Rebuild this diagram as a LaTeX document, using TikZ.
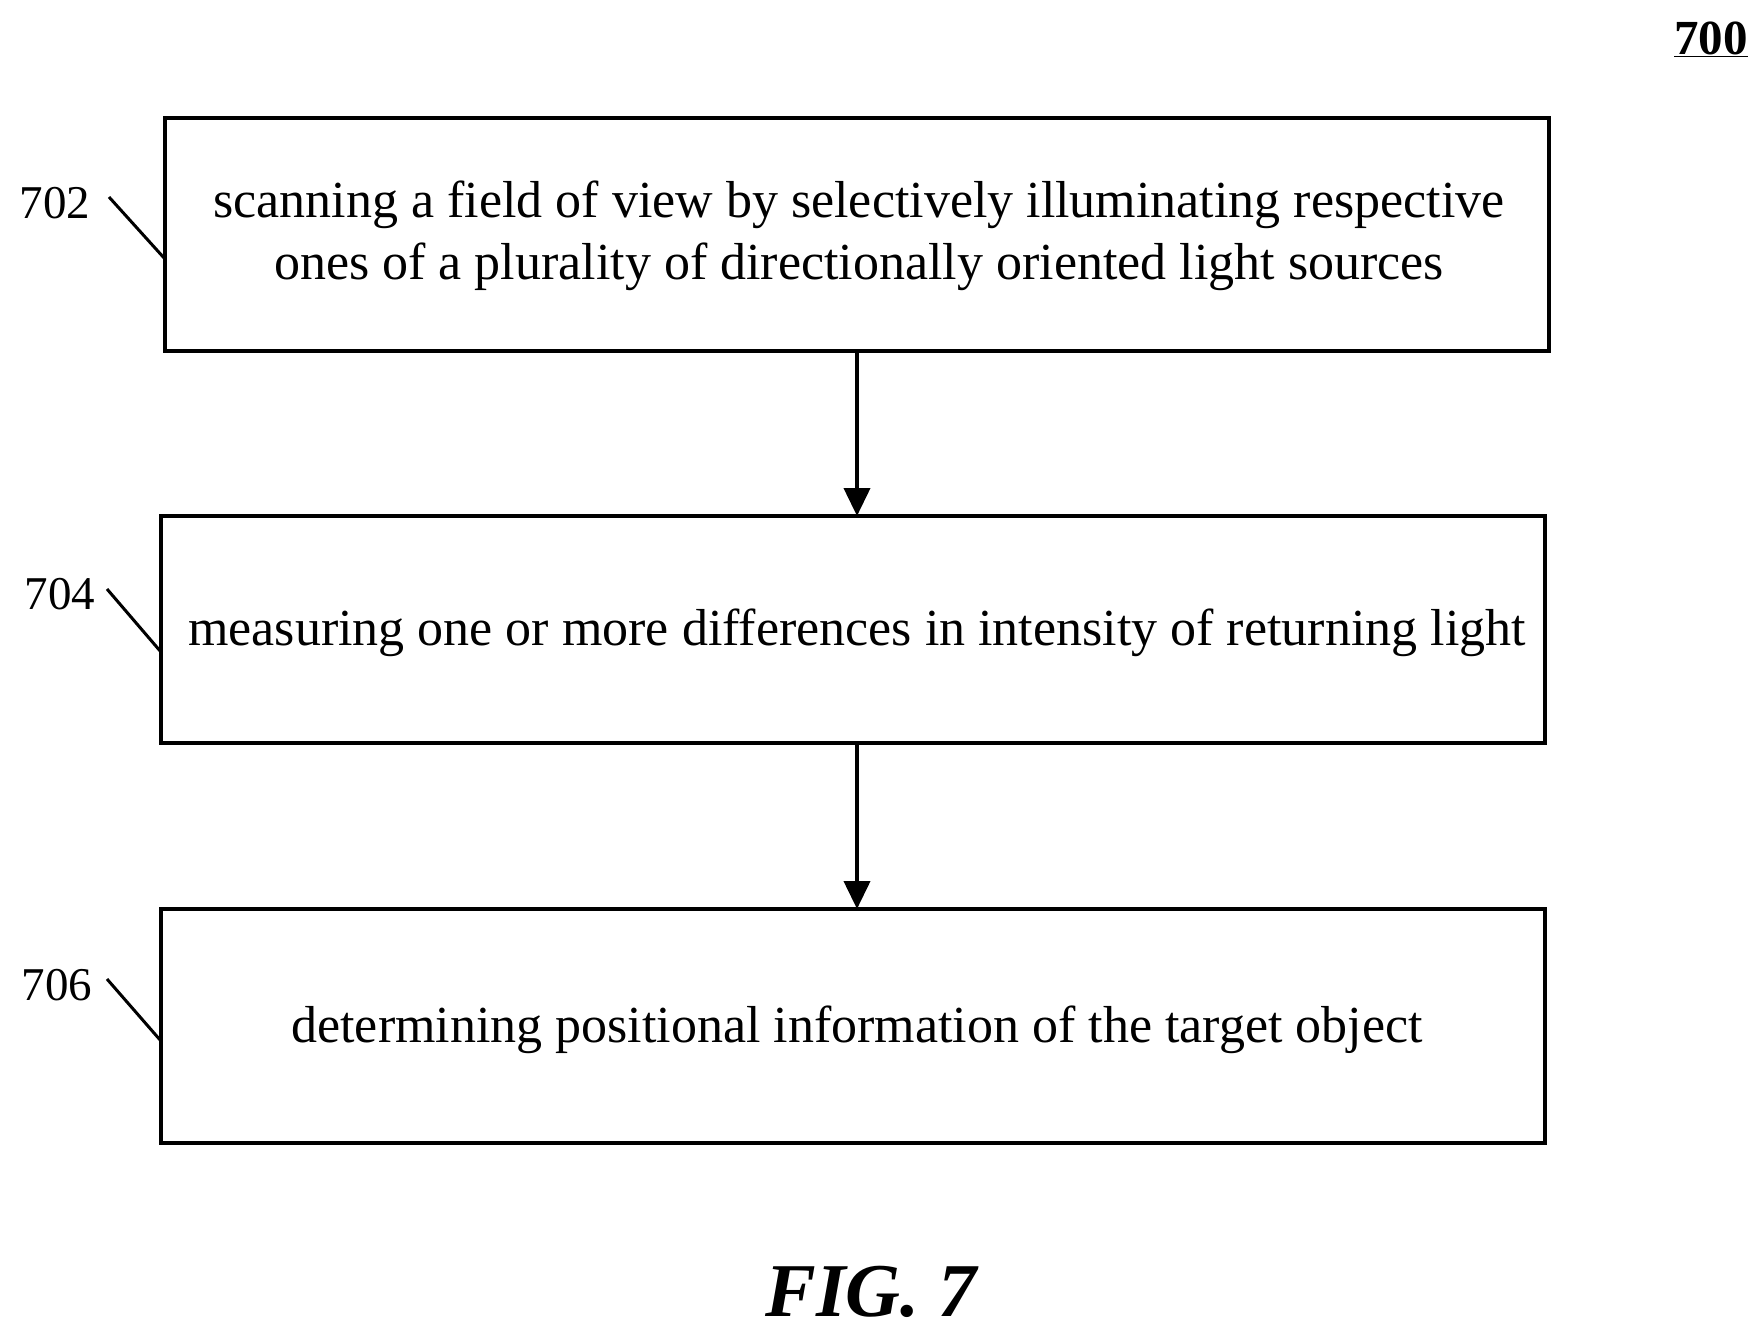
\documentclass[tikz,border=0pt]{standalone}
\usepackage{fontspec}
\setmainfont{Liberation Serif}
\usetikzlibrary{arrows.meta}
\begin{document}
\begin{tikzpicture}[x=1pt,y=-1pt,
  box/.style={draw,line width=4pt,inner sep=0pt},
  lbl/.style={font=\fontsize{47}{56}\selectfont},
  arr/.style={line width=4pt,-{Triangle[length=28pt,width=26pt]}},
  lead/.style={line width=3pt},
  txt/.style={font=\fontsize{52}{62}\selectfont,align=center}]
\useasboundingbox (0,0) rectangle (1760,1334);
\draw[box] (165,118) rectangle (1549,351);
\draw[box] (161,516) rectangle (1545,743);
\draw[box] (161,909) rectangle (1545,1143);
\node[txt] (t1) at (859,236) {scanning a field of view by selectively illuminating respective\\ones of a plurality of directionally oriented light sources};
\node[txt] (t2) at (857,633) {measuring one or more differences in intensity of returning light};
\node[txt] (t3) at (857,1030) {determining positional information of the target object};
\coordinate (b1) at (857,351); \coordinate (b2t) at (857,516);
\coordinate (b2) at (857,743); \coordinate (b3t) at (857,909);
\draw[arr] (b1) -- (b2t);
\draw[arr] (b2) -- (b3t);
\node[lbl] (l702) at (55,203) {702};
\node[lbl] (l704) at (60,594) {704};
\node[lbl] (l706) at (57,985) {706};
\draw[lead] (109,197) -- (165,259);
\draw[lead] (107,589) -- (161,652);
\draw[lead] (107,979) -- (161,1041);
\node[font=\fontsize{49}{58}\selectfont\bfseries] (n700) at (1711,39) {\underline{700}};
\node[font=\fontsize{76}{88}\selectfont\bfseries\itshape] (fig) at (871,1292) {FIG. 7};
\end{tikzpicture}
\end{document}
